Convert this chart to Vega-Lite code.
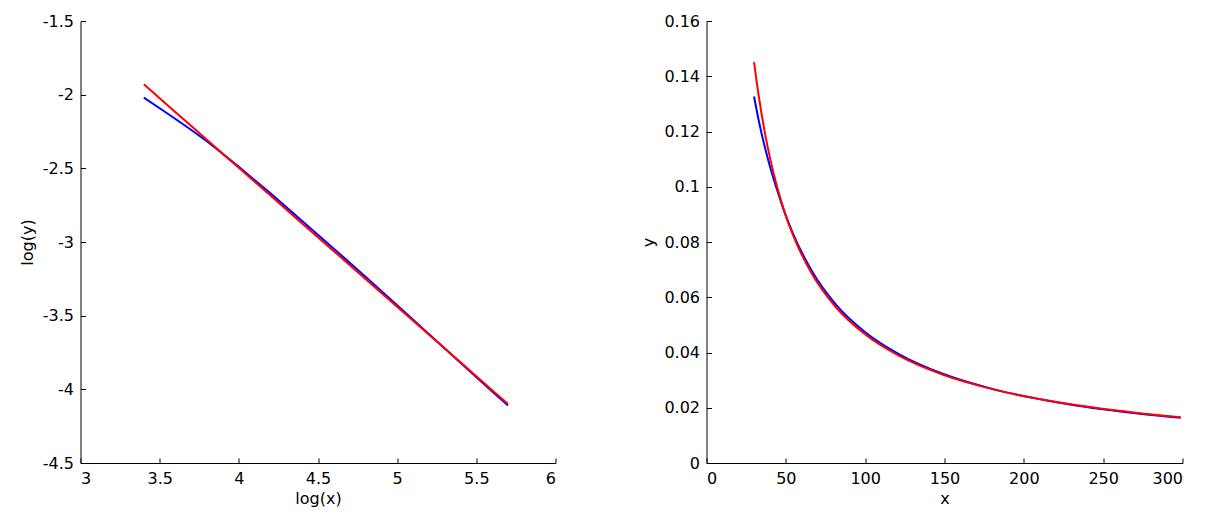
{
  "$schema": "https://vega.github.io/schema/vega-lite/v6.json",
  "description": "Power-law fit shown on log-log axes and on linear axes",
  "background": "white",
  "padding": {"left": 18.5, "top": 13, "right": 0, "bottom": 0},
  "datasets": {
    "curves": [
      {"lx": 3.4, "ly": -2.020, "x": 29.96, "y": 0.13266, "s": "data"},
      {"lx": 3.5, "ly": -2.092, "x": 33.12, "y": 0.12344, "s": "data"},
      {"lx": 3.6, "ly": -2.165, "x": 36.60, "y": 0.11475, "s": "data"},
      {"lx": 3.7, "ly": -2.240, "x": 40.45, "y": 0.10646, "s": "data"},
      {"lx": 3.8, "ly": -2.318, "x": 44.70, "y": 0.09847, "s": "data"},
      {"lx": 3.9, "ly": -2.403, "x": 49.40, "y": 0.09045, "s": "data"},
      {"lx": 4.0, "ly": -2.490, "x": 54.60, "y": 0.08291, "s": "data"},
      {"lx": 4.2, "ly": -2.670, "x": 66.69, "y": 0.06925, "s": "data"},
      {"lx": 4.4, "ly": -2.857, "x": 81.45, "y": 0.05744, "s": "data"},
      {"lx": 4.6, "ly": -3.045, "x": 99.48, "y": 0.04760, "s": "data"},
      {"lx": 4.8, "ly": -3.236, "x": 121.51, "y": 0.03932, "s": "data"},
      {"lx": 5.0, "ly": -3.430, "x": 148.41, "y": 0.03239, "s": "data"},
      {"lx": 5.2, "ly": -3.625, "x": 181.27, "y": 0.02665, "s": "data"},
      {"lx": 5.4, "ly": -3.820, "x": 221.41, "y": 0.02193, "s": "data"},
      {"lx": 5.6, "ly": -4.015, "x": 270.43, "y": 0.01804, "s": "data"},
      {"lx": 5.7, "ly": -4.110, "x": 298.87, "y": 0.01641, "s": "data"},
      {"lx": 3.4, "ly": -1.930, "x": 29.96, "y": 0.14515, "s": "fit"},
      {"lx": 3.5, "ly": -2.024, "x": 33.12, "y": 0.13213, "s": "fit"},
      {"lx": 3.6, "ly": -2.119, "x": 36.60, "y": 0.12015, "s": "fit"},
      {"lx": 3.7, "ly": -2.213, "x": 40.45, "y": 0.10937, "s": "fit"},
      {"lx": 3.8, "ly": -2.307, "x": 44.70, "y": 0.09956, "s": "fit"},
      {"lx": 3.9, "ly": -2.402, "x": 49.40, "y": 0.09054, "s": "fit"},
      {"lx": 4.0, "ly": -2.496, "x": 54.60, "y": 0.08241, "s": "fit"},
      {"lx": 4.2, "ly": -2.685, "x": 66.69, "y": 0.06822, "s": "fit"},
      {"lx": 4.4, "ly": -2.874, "x": 81.45, "y": 0.05647, "s": "fit"},
      {"lx": 4.6, "ly": -3.062, "x": 99.48, "y": 0.04679, "s": "fit"},
      {"lx": 4.8, "ly": -3.251, "x": 121.51, "y": 0.03874, "s": "fit"},
      {"lx": 5.0, "ly": -3.440, "x": 148.41, "y": 0.03206, "s": "fit"},
      {"lx": 5.2, "ly": -3.628, "x": 181.27, "y": 0.02657, "s": "fit"},
      {"lx": 5.4, "ly": -3.817, "x": 221.41, "y": 0.02199, "s": "fit"},
      {"lx": 5.6, "ly": -4.006, "x": 270.43, "y": 0.01821, "s": "fit"},
      {"lx": 5.7, "ly": -4.100, "x": 298.87, "y": 0.01657, "s": "fit"}
    ]
  },
  "data": {"name": "curves"},
  "bounds": "flush",
  "spacing": 151,
  "hconcat": [
    {
      "width": 475,
      "height": 442,
      "mark": {"type": "line", "strokeWidth": 2},
      "encoding": {
        "x": {
          "field": "lx",
          "type": "quantitative",
          "title": "log(x)",
          "scale": {"domain": [3, 6], "nice": false, "zero": false},
          "axis": {"values": [3, 3.5, 4, 4.5, 5, 5.5, 6]}
        },
        "y": {
          "field": "ly",
          "type": "quantitative",
          "title": "log(y)",
          "scale": {"domain": [-4.5, -1.5], "nice": false, "zero": false},
          "axis": {"values": [-4.5, -4, -3.5, -3, -2.5, -2, -1.5]}
        },
        "color": {
          "field": "s",
          "type": "nominal",
          "scale": {"domain": ["data", "fit"], "range": ["#0000ff", "#ff0000"]},
          "legend": null
        }
      }
    },
    {
      "width": 476,
      "height": 442,
      "mark": {"type": "line", "strokeWidth": 2, "interpolate": "monotone"},
      "encoding": {
        "x": {
          "field": "x",
          "type": "quantitative",
          "title": "x",
          "scale": {"domain": [0, 300], "nice": false},
          "axis": {"values": [0, 50, 100, 150, 200, 250, 300]}
        },
        "y": {
          "field": "y",
          "type": "quantitative",
          "title": "y",
          "scale": {"domain": [0, 0.16], "nice": false},
          "axis": {"values": [0, 0.02, 0.04, 0.06, 0.08, 0.1, 0.12, 0.14, 0.16]}
        },
        "color": {
          "field": "s",
          "type": "nominal",
          "scale": {"domain": ["data", "fit"], "range": ["#0000ff", "#ff0000"]},
          "legend": null
        }
      }
    }
  ],
  "config": {
    "view": {"stroke": null},
    "axis": {
      "grid": false,
      "domainColor": "black",
      "domainWidth": 1,
      "tickColor": "black",
      "tickSize": -5,
      "labelFont": "DejaVu Sans",
      "labelFontSize": 16,
      "labelColor": "black",
      "labelExpr": "'' + datum.value",
      "titleFont": "DejaVu Sans",
      "titleFontSize": 16,
      "titleFontWeight": "normal",
      "titleColor": "black"
    },
    "axisX": {"labelPadding": 12.5, "titlePadding": 4},
    "axisY": {"labelPadding": 12, "titlePadding": 7}
  }
}
